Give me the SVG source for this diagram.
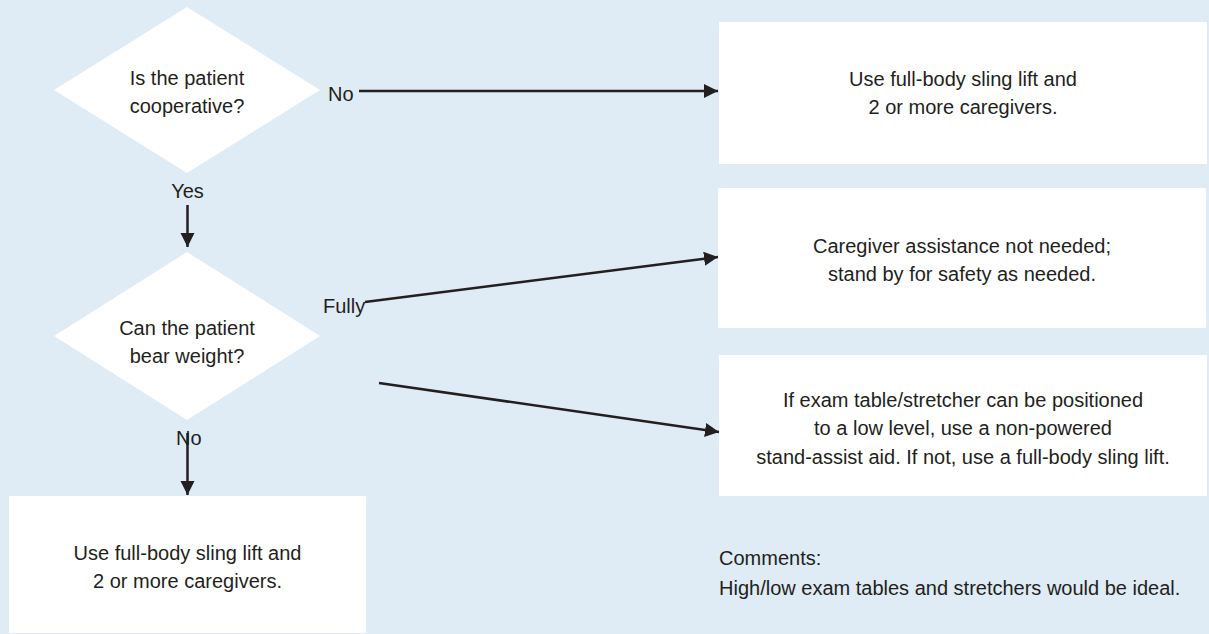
<svg xmlns="http://www.w3.org/2000/svg" width="1209" height="634" viewBox="0 0 1209 634">
<style>
text{font-family:"Liberation Sans",Arial,sans-serif;font-size:20px;fill:#231f20}
.c{text-anchor:middle}
.shape{fill:#ffffff}
.conn{stroke:#231f20;stroke-width:2.5;fill:none;marker-end:url(#ah)}
</style>
<defs>
<marker id="ah" markerUnits="userSpaceOnUse" markerWidth="16" markerHeight="16" refX="14" refY="7" orient="auto">
<path d="M0,0 L14,7 L0,14 Z" fill="#231f20"/>
</marker>
</defs>
<rect width="1209" height="634" fill="#dfebf5"/>
<g id="q1">
<polygon class="shape" points="187,7 320,90 187,173 54,90"/>
<text class="c" x="187" y="85">Is the patient</text>
<text class="c" x="187" y="113">cooperative?</text>
</g>
<g id="q2">
<polygon class="shape" points="187,252 320,336 187,420 54,336"/>
<text class="c" x="187" y="335">Can the patient</text>
<text class="c" x="187" y="363">bear weight?</text>
</g>
<g id="r1">
<rect class="shape" x="719" y="22" width="488" height="142"/>
<text class="c" x="963" y="86">Use full-body sling lift and</text>
<text class="c" x="963" y="114">2 or more caregivers.</text>
</g>
<g id="r2">
<rect class="shape" x="718" y="188" width="488" height="140"/>
<text class="c" x="962" y="253">Caregiver assistance not needed;</text>
<text class="c" x="962" y="281">stand by for safety as needed.</text>
</g>
<g id="r3">
<rect class="shape" x="719" y="355" width="488" height="141"/>
<text class="c" x="963" y="407">If exam table/stretcher can be positioned</text>
<text class="c" x="963" y="435">to a low level, use a non-powered</text>
<text class="c" x="963" y="464">stand-assist aid. If not, use a full-body sling lift.</text>
</g>
<g id="r4">
<rect class="shape" x="9" y="496" width="357" height="137"/>
<text class="c" x="187.5" y="560">Use full-body sling lift and</text>
<text class="c" x="187.5" y="588">2 or more caregivers.</text>
</g>
<g id="comments">
<text x="719" y="565">Comments:</text>
<text x="719" y="595">High/low exam tables and stretchers would be ideal.</text>
</g>
<g id="connectors">
<path class="conn" d="M359,91 L718,91"/>
<path class="conn" d="M187.5,205 L187.5,247"/>
<path class="conn" d="M365,302 L718,257"/>
<path class="conn" d="M379,383 L719,432"/>
<path class="conn" d="M187.5,433 L187.5,495"/>
<text x="328" y="101">No</text>
<text class="c" x="187.5" y="198">Yes</text>
<text x="323" y="313">Fully</text>
<text x="176" y="445">No</text>
</g>
</svg>
